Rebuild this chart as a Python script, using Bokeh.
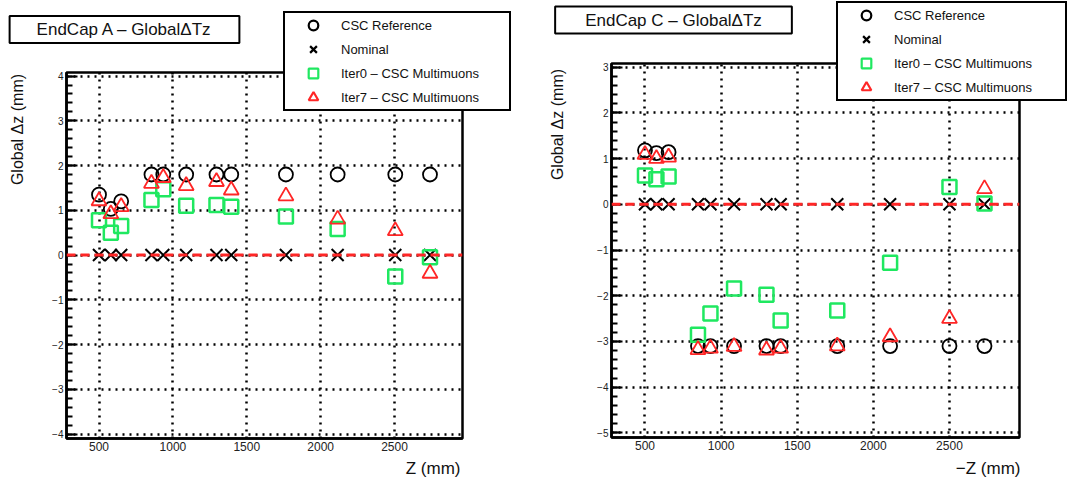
import math
from bokeh.plotting import figure
from bokeh.models import Label, Legend, LegendItem, FixedTicker, Span, Range1d, GridBox
from bokeh.embed import file_html
from bokeh.resources import INLINE

# ---- EndCap A ----
z_a = [500, 580, 650, 855, 935, 1090, 1295, 1395, 1765, 2115, 2505, 2740]
ref_a = [1.35, 1.03, 1.2, 1.8, 1.8, 1.8, 1.8, 1.8, 1.8, 1.8, 1.8, 1.8]
nominal_a = [0, 0, 0, 0, 0, 0, 0, 0, 0, 0, 0, 0]
iter0_a = [0.78, 0.5, 0.65, 1.23, 1.47, 1.1, 1.12, 1.08, 0.86, 0.58, -0.48, -0.05]
iter7_a = [1.21, 0.92, 1.08, 1.6, 1.73, 1.55, 1.64, 1.45, 1.32, 0.8, 0.54, -0.41]

# ---- EndCap C ----
z_c = [500, 575, 655, 848, 930, 1085, 1298, 1391, 1763, 2110, 2500, 2730]
ref_c = [1.18, 1.12, 1.14, -3.1, -3.1, -3.1, -3.1, -3.1, -3.1, -3.1, -3.1, -3.1]
nominal_c = [0, 0, 0, 0, 0, 0, 0, 0, 0, 0, 0, 0]
iter0_c = [0.63, 0.55, 0.61, -2.85, -2.39, -1.84, -1.98, -2.54, -2.32, -1.28, 0.38, 0.02]
iter7_c = [1.09, 1.0, 1.03, -3.18, -3.15, -3.11, -3.19, -3.15, -3.1, -2.9, -2.5, 0.34]

x_ticks = [500, 1000, 1500, 2000, 2500]
series_names = ["CSC Reference", "Nominal", "Iter0 \u2013 CSC Multimuons", "Iter7 \u2013 CSC Multimuons"]

FONT = "Liberation Sans"
GREEN = "#1fe860"
RED = "#ff2626"
W, H = 1078, 480

# marker styles shared by the data and the legends
STYLES = [
    dict(marker="circle", size=14, fill_color=None, line_color="black", line_width=1.8),
    dict(marker="x", size=17, line_color="black", line_width=2),
    dict(marker="square", size=14, fill_color=None, line_color=GREEN, line_width=2.5),
    dict(marker="triangle", size=15, fill_color=None, line_color=RED, line_width=1.8),
]


def panel(width, borders, y_lo, y_hi, z, series):
    left, right, top, bottom = borders
    p = figure(width=width, height=H, x_range=(280, 2960), y_range=(y_lo, y_hi),
               output_backend="svg", toolbar_location=None,
               min_border_left=left, min_border_right=right,
               min_border_top=top, min_border_bottom=bottom)
    p.frame_align = False
    p.background_fill_color = "white"
    p.border_fill_color = "white"
    p.outline_line_color = "black"
    p.outline_line_width = 2.5

    y_major = list(range(math.ceil(y_lo), math.floor(y_hi) + 1))
    y_minor = [k / 5 for k in range(math.ceil(y_lo * 5), math.floor(y_hi * 5) + 1)]
    p.yaxis.ticker = FixedTicker(ticks=y_major, minor_ticks=y_minor)
    p.yaxis.major_label_overrides = {v: ("\u2212" + str(-v) if v < 0 else str(v)) for v in y_major}
    p.xaxis.ticker = FixedTicker(ticks=x_ticks, minor_ticks=[])

    for ax in (p.xaxis[0], p.yaxis[0]):
        ax.axis_line_color = "black"
        ax.axis_line_width = 2.5
        ax.major_label_text_font = FONT
        ax.major_label_text_color = "#222222"
    p.yaxis.major_tick_in = 11
    p.yaxis.major_tick_out = 0
    p.yaxis.minor_tick_in = 6
    p.yaxis.minor_tick_out = 0
    p.yaxis.major_tick_line_width = 2
    p.yaxis.minor_tick_line_width = 2
    p.yaxis.major_label_text_font_size = "10px"
    p.yaxis.major_label_standoff = 3
    p.xaxis.major_tick_in = 0
    p.xaxis.major_tick_out = 0
    p.xaxis.minor_tick_line_color = None
    p.xaxis.major_label_text_font_size = "12px"
    p.xaxis.major_label_standoff = 3

    for g in (p.xgrid[0], p.ygrid[0]):
        g.grid_line_color = "black"
        g.grid_line_dash = "2 5"
        g.grid_line_width = 2.5
        g.grid_line_alpha = 1.0

    p.add_layout(Span(location=0, dimension="width", line_color=RED,
                      line_width=3, line_dash="9 5"))

    for values, style in zip(series, STYLES):
        p.scatter(z, values, **style)
    return p


p_a = panel(540, (66, 78, 72, 42), -4.1, 4.08, z_a, [ref_a, nominal_a, iter0_a, iter7_a])
p_c = panel(538, (71, 59, 63, 43), -5.1, 3.08, z_c, [ref_c, nominal_c, iter0_c, iter7_c])

# Transparent layer on top of both panels: title boxes, axis titles and legends,
# which sit partly outside the plot frames.
top = figure(width=W, height=H, x_range=Range1d(0, W), y_range=Range1d(0, H),
             x_axis_type=None, y_axis_type=None, output_backend="svg",
             toolbar_location=None, min_border=0)
top.frame_align = False
top.background_fill_color = None
top.border_fill_color = None
top.outline_line_color = None
top.grid.visible = False

# hidden proxies that only supply the legend swatches
legend_styles = [dict(s, line_width=2.2) for s in STYLES]
legend_renderers = [top.scatter(z_a, values, visible=False, **style)
                    for values, style in zip([ref_a, nominal_a, iter0_a, iter7_a], legend_styles)]


def add_legend(loc, label_width):
    top.add_layout(Legend(
        items=[LegendItem(label=n, renderers=[r]) for n, r in zip(series_names, legend_renderers)],
        location=loc, margin=0, padding=0, spacing=0,
        glyph_width=56, glyph_height=24, label_standoff=0, label_width=label_width,
        label_text_font=FONT, label_text_font_size="13px", label_text_color="#111111",
        border_line_color="black", border_line_width=2, border_line_alpha=1.0,
        background_fill_color="white", background_fill_alpha=1.0,
        inactive_fill_alpha=0.0,
    ))


def add_text(x, y, text, size, align="center", angle=0.0, box_pad=None):
    kw = dict(x=x, y=H - y, text=text, text_font=FONT, text_font_size=size,
              text_align=align, text_baseline="middle", text_color="#111111", angle=angle)
    if box_pad is not None:
        kw.update(border_line_color="black", border_line_width=2, background_fill_color="white",
                  padding=dict(left=box_pad, right=box_pad, top=4, bottom=4))
    top.add_layout(Label(**kw))


add_legend((283, H - 111), 168)
add_legend((836, H - 101), 171)

add_text(124, 29, "EndCap A \u2013 Global\u0394Tz", "17px", box_pad=27)
add_text(673, 19.5, "EndCap C \u2013 Global\u0394Tz", "17px", box_pad=30)
add_text(17, 129, "Global \u0394z (mm)", "16px", angle=math.pi / 2)
add_text(557, 124, "Global \u0394z (mm)", "16px", angle=math.pi / 2)
add_text(460, 468, "Z (mm)", "17px", align="right")
add_text(1020, 468, "\u2212Z (mm)", "17px", align="right")

layout = GridBox(children=[(p_a, 0, 0), (p_c, 0, 1), (top, 0, 0, 1, 2)], spacing=0)
open("out.html", "w").write(file_html(layout, INLINE))
